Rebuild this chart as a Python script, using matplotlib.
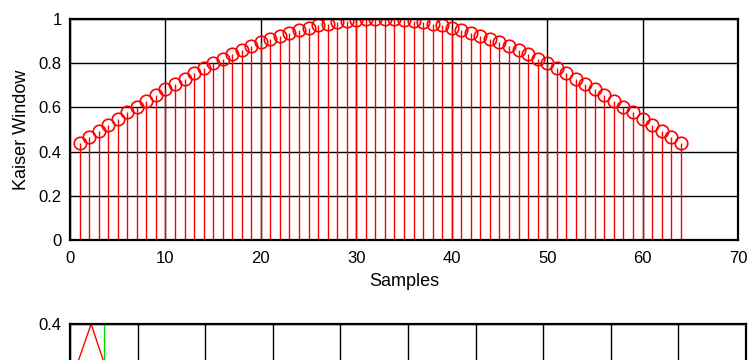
"""
Kaiser window stem plot with the (cropped) frequency panel below it.
"""

import numpy as np
import matplotlib
matplotlib.use('Agg')
import matplotlib.pyplot as plt

plt.rcParams['font.family'] = ['Liberation Sans', 'DejaVu Sans']
plt.rcParams['font.size'] = 12

# Kaiser window values (symmetric, 64 samples)
half_window = [0.439, 0.467, 0.494, 0.522, 0.549, 0.577, 0.603, 0.630,
               0.656, 0.681, 0.706, 0.730, 0.754, 0.777, 0.799, 0.820,
               0.840, 0.859, 0.877, 0.894, 0.910, 0.924, 0.938, 0.950,
               0.961, 0.971, 0.979, 0.986, 0.991, 0.996, 0.998, 1.000]
window = half_window + half_window[::-1]
samples = list(range(1, 65))

# lower panel: response points and cutoff marker (mostly cropped out)
freq = [0.0, 0.03125, 0.0625]
response = [0.29, 0.40, 0.285]
cutoff = 0.05


def style_axes(ax):
    for sp in ax.spines.values():
        sp.set_linewidth(1.6)
        sp.set_color('black')
    ax.grid(True, color='black', linewidth=1.0, linestyle='-')
    ax.set_axisbelow(True)
    ax.tick_params(length=0, labelsize=12)
    ax.tick_params(axis='x', pad=8)
    ax.tick_params(axis='y', pad=6)


fig = plt.figure(figsize=(7.5, 3.6), dpi=100)

# top: stem plot
ax1 = fig.add_axes([70 / 750, 1 - 240 / 360, 668 / 750, 221 / 360])
markers, stems, base = ax1.stem(samples, window, linefmt='r-', markerfmt='ro', basefmt=' ')
markers.set_markerfacecolor('none')
markers.set_markeredgecolor('red')
markers.set_markersize(9)
markers.set_markeredgewidth(1.2)
stems.set_linewidth(1.0)
ax1.set_xlim(0, 70)
ax1.set_ylim(0, 1)
ax1.set_xticks(np.arange(0, 71, 10))
ax1.set_yticks([0, 0.2, 0.4, 0.6, 0.8, 1])
ax1.set_yticklabels(['0', '0.2', '0.4', '0.6', '0.8', '1'])
ax1.set_xlabel('Samples', fontsize=13, labelpad=5)
ax1.set_ylabel('Kaiser Window', fontsize=13, labelpad=6)
style_axes(ax1)

# bottom: runs off the bottom of the figure, only its top edge shows
ax2 = fig.add_axes([70 / 750, 0.1 - 221 / 360, 676 / 750, 221 / 360])
ax2.plot(freq, response, color='red', linewidth=1.0)
ax2.axvline(cutoff, color='#00DD00', linewidth=1.0)
ax2.set_xlim(0, 1)
ax2.set_ylim(0, 0.4)
ax2.set_xticks(np.arange(0, 1.01, 0.1))
ax2.set_xticklabels([''] * 11)
ax2.set_yticks([0, 0.1, 0.2, 0.3, 0.4])
ax2.set_yticklabels(['', '', '', '', '0.4'])
style_axes(ax2)

fig.savefig('out.png', dpi=100)
